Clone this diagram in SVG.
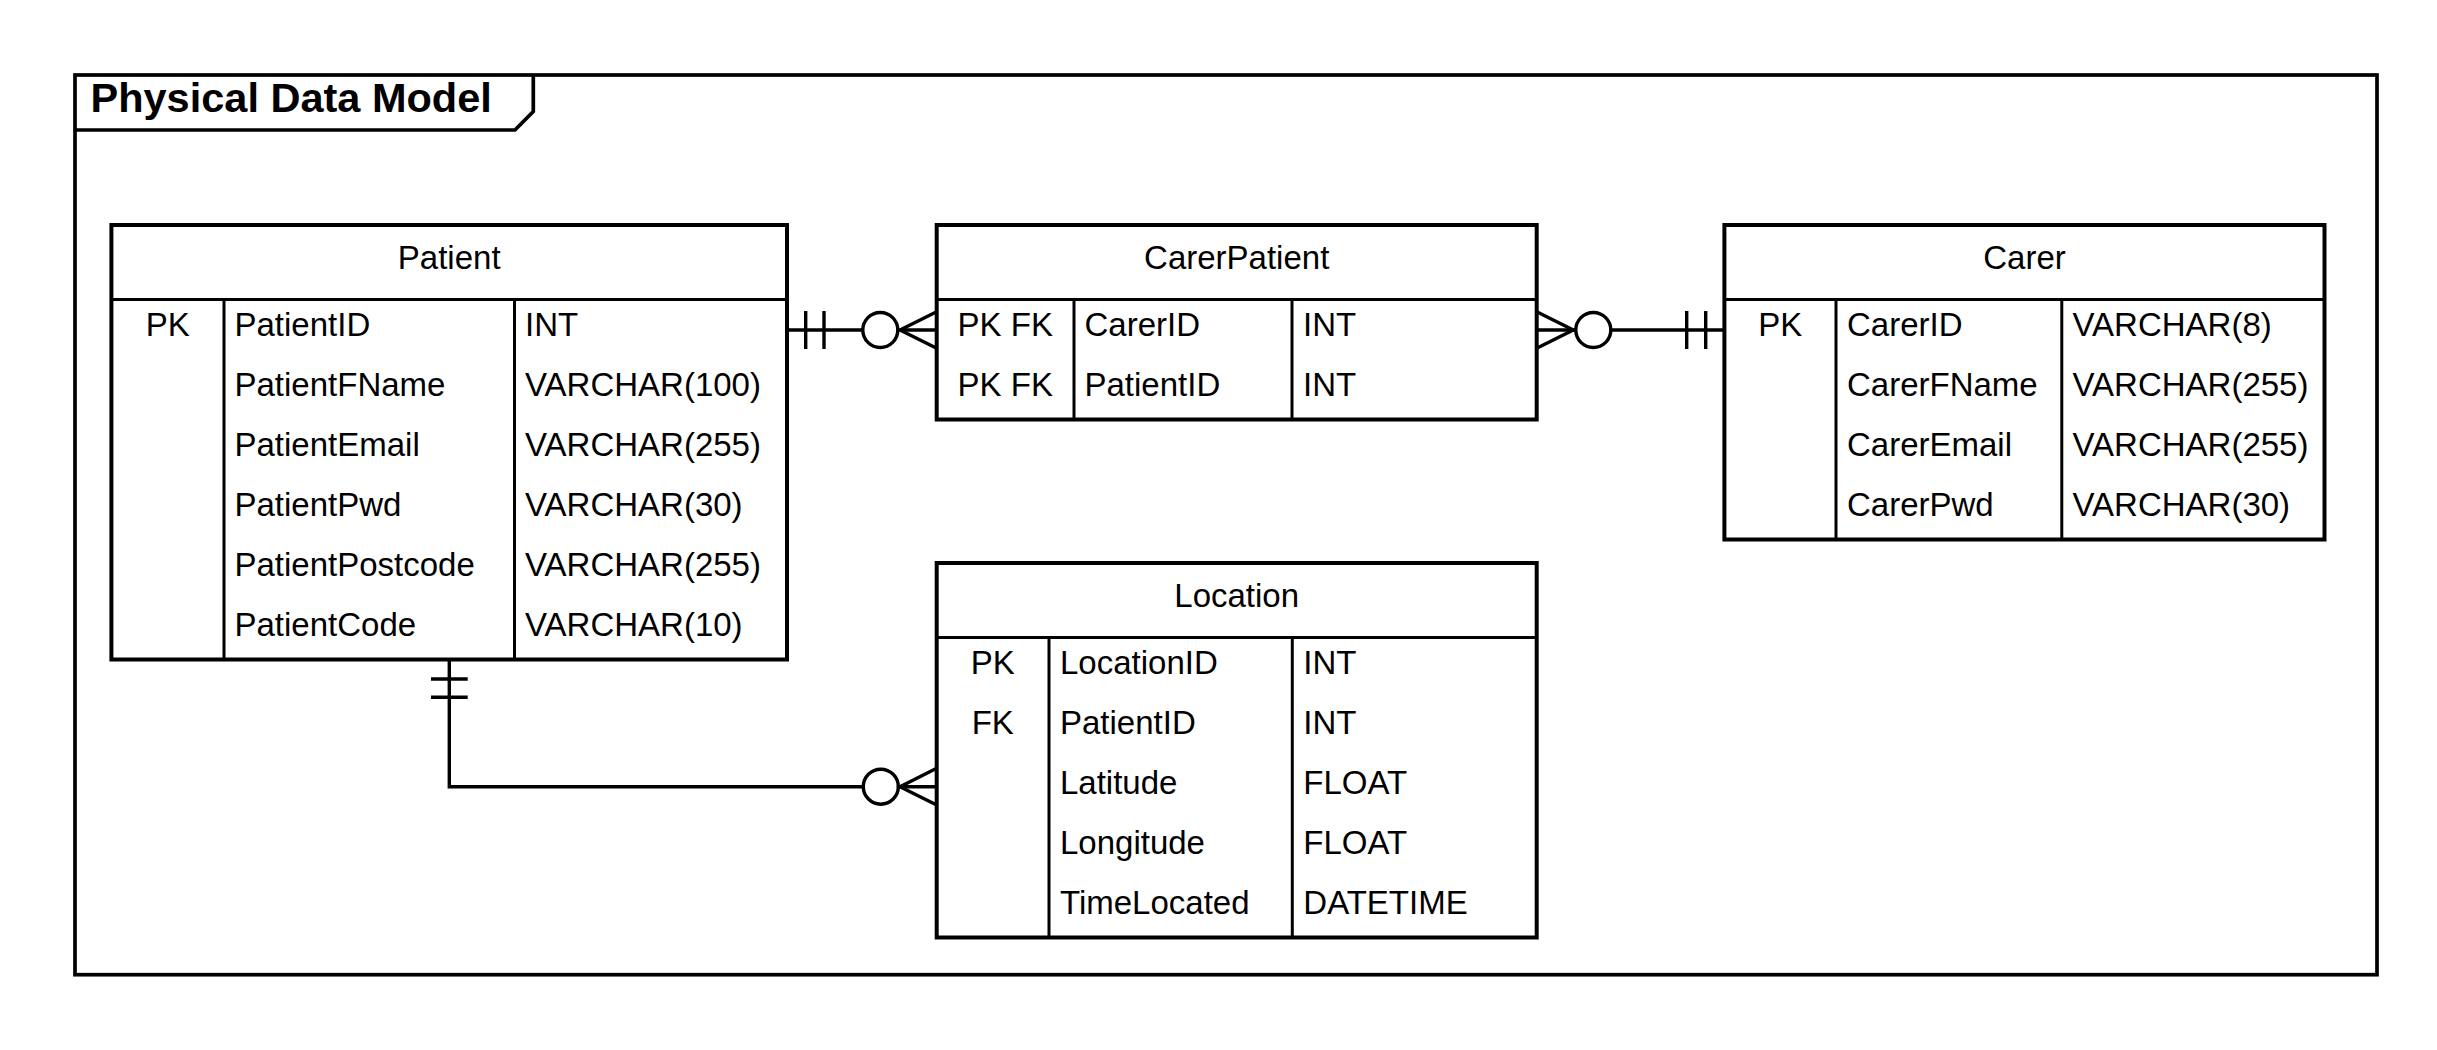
<svg xmlns="http://www.w3.org/2000/svg" width="2437" height="1050" viewBox="0 0 2437 1050">
<style>
  text { font-family: "Liberation Sans", Arial, sans-serif; font-size: 33px; fill: #000; }
  .title { font-weight: bold; font-size: 41.5px; }
  .c { text-anchor: middle; }
  .outer { fill: #fff; stroke: #000; stroke-width: 4; }
  .inner { fill: none; stroke: #000; stroke-width: 3; }
  .frame { fill: none; stroke: #000; stroke-width: 3.7; }
  .conn { fill: none; stroke: #000; stroke-width: 3.4; }
  .circ { fill: #fff; stroke: #000; stroke-width: 3.4; }
</style>
<rect width="2437" height="1050" fill="#fff"/>

<g id="frame">
  <rect class="frame" x="75" y="75" width="2302" height="899.7"/>
  <path class="frame" d="M75,130 H515 L533.3,111.5 V75"/>
  <text class="title" x="90.5" y="111.7">Physical Data Model</text>
</g>

<g id="connectors">
  <!-- Patient to CarerPatient -->
  <path class="conn" d="M787,330 H936.7"/>
  <path class="conn" d="M805.7,311 V349 M824,311 V349"/>
  <circle class="circ" cx="880.3" cy="330" r="17.5"/>
  <path class="conn" d="M936.7,311.7 L900,330 L936.7,348.3"/>
  <!-- CarerPatient to Carer -->
  <path class="conn" d="M1536.7,330 H1724.4"/>
  <path class="conn" d="M1536.7,311.7 L1573.3,330 L1536.7,348.3"/>
  <circle class="circ" cx="1593.3" cy="330" r="17.5"/>
  <path class="conn" d="M1686.7,311 V349 M1705.7,311 V349"/>
  <!-- Patient to Location -->
  <path class="conn" d="M449.3,660 V786.7 H936.7"/>
  <path class="conn" d="M431,679 H467.7 M431,697.3 H467.7"/>
  <circle class="circ" cx="880.8" cy="786.7" r="17.5"/>
  <path class="conn" d="M936.7,768.3 L900,786.7 L936.7,805"/>
</g>

<g id="patient">
  <rect class="outer" x="111.4" y="225" width="675.6" height="434.5"/>
  <path class="inner" d="M111.4,299.5 H787 M224,299.5 V659.5 M514.5,299.5 V659.5"/>
  <text class="c" x="449.2" y="269">Patient</text>
  <text class="c" x="167.7" y="336">PK</text>
  <text x="234.5" y="336">PatientID</text>
  <text x="234.5" y="396">PatientFName</text>
  <text x="234.5" y="456">PatientEmail</text>
  <text x="234.5" y="516">PatientPwd</text>
  <text x="234.5" y="576">PatientPostcode</text>
  <text x="234.5" y="636">PatientCode</text>
  <text x="525" y="336">INT</text>
  <text x="525" y="396">VARCHAR(100)</text>
  <text x="525" y="456">VARCHAR(255)</text>
  <text x="525" y="516">VARCHAR(30)</text>
  <text x="525" y="576">VARCHAR(255)</text>
  <text x="525" y="636">VARCHAR(10)</text>
</g>

<g id="carerpatient">
  <rect class="outer" x="936.7" y="225" width="600" height="194.5"/>
  <path class="inner" d="M936.7,299.5 H1536.7 M1074,299.5 V419.5 M1292,299.5 V419.5"/>
  <text class="c" x="1236.7" y="269">CarerPatient</text>
  <text class="c" x="1005.3" y="336">PK FK</text>
  <text class="c" x="1005.3" y="396">PK FK</text>
  <text x="1084.5" y="336">CarerID</text>
  <text x="1084.5" y="396">PatientID</text>
  <text x="1303" y="336">INT</text>
  <text x="1303" y="396">INT</text>
</g>

<g id="carer">
  <rect class="outer" x="1724.4" y="225" width="600.1" height="314.5"/>
  <path class="inner" d="M1724.4,299.5 H2324.5 M1836,299.5 V539.5 M2061.8,299.5 V539.5"/>
  <text class="c" x="2024.5" y="269">Carer</text>
  <text class="c" x="1780.2" y="336">PK</text>
  <text x="1847" y="336">CarerID</text>
  <text x="1847" y="396">CarerFName</text>
  <text x="1847" y="456">CarerEmail</text>
  <text x="1847" y="516">CarerPwd</text>
  <text x="2072.5" y="336">VARCHAR(8)</text>
  <text x="2072.5" y="396">VARCHAR(255)</text>
  <text x="2072.5" y="456">VARCHAR(255)</text>
  <text x="2072.5" y="516">VARCHAR(30)</text>
</g>

<g id="location">
  <rect class="outer" x="936.7" y="563" width="600" height="374.5"/>
  <path class="inner" d="M936.7,637.5 H1536.7 M1049,637.5 V937.5 M1292.3,637.5 V937.5"/>
  <text class="c" x="1236.7" y="607">Location</text>
  <text class="c" x="992.8" y="674">PK</text>
  <text class="c" x="992.8" y="734">FK</text>
  <text x="1060" y="674">LocationID</text>
  <text x="1060" y="734">PatientID</text>
  <text x="1060" y="794">Latitude</text>
  <text x="1060" y="854">Longitude</text>
  <text x="1060" y="914">TimeLocated</text>
  <text x="1303.3" y="674">INT</text>
  <text x="1303.3" y="734">INT</text>
  <text x="1303.3" y="794">FLOAT</text>
  <text x="1303.3" y="854">FLOAT</text>
  <text x="1303.3" y="914">DATETIME</text>
</g>
</svg>
